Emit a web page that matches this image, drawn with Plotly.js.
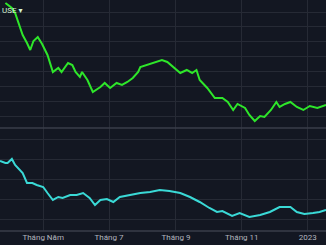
<!DOCTYPE html>
<html><head><meta charset="utf-8">
<script src="https://cdn.plot.ly/plotly-3.0.1.min.js"></script>
<style>html,body{margin:0;padding:0;background:#131722;}#c{width:326px;height:245px;}</style>
</head><body><div id="c"></div>
<script>
const greenDates = ["2022-03-27","2022-04-02","2022-04-05","2022-04-07","2022-04-10","2022-04-12","2022-04-16","2022-04-19","2022-04-22","2022-04-26","2022-04-30","2022-05-03","2022-05-05","2022-05-10","2022-05-15","2022-05-18","2022-05-24","2022-05-28","2022-05-31","2022-06-04","2022-06-06","2022-06-11","2022-06-16","2022-06-23","2022-06-27","2022-07-02","2022-07-08","2022-07-13","2022-07-18","2022-07-23","2022-07-28","2022-07-30","2022-08-05","2022-08-11","2022-08-19","2022-08-24","2022-08-29","2022-09-05","2022-09-11","2022-09-16","2022-09-20","2022-09-23","2022-09-30","2022-10-07","2022-10-14","2022-10-19","2022-10-24","2022-10-28","2022-11-04","2022-11-08","2022-11-13","2022-11-18","2022-11-22","2022-11-28","2022-12-03","2022-12-06","2022-12-11","2022-12-16","2022-12-22","2022-12-28","2023-01-03","2023-01-10","2023-01-18"];
const greenValues = [197,192,187,180,170,165,157,150,159,163,156,150,145,128,132,128,137,135,128,123,128,120,108,113,117,112,117,115,118,122,128,133,135,137,140,138,133,127,130,127,130,120,112,102,102,98,90,96,92,85,79,84,83,90,98,93,96,98,93,90,94,92,95];
const cyanDates = ["2022-03-22","2022-03-27","2022-03-29","2022-04-02","2022-04-05","2022-04-10","2022-04-12","2022-04-16","2022-04-21","2022-04-25","2022-05-01","2022-05-05","2022-05-10","2022-05-15","2022-05-19","2022-05-26","2022-06-01","2022-06-07","2022-06-13","2022-06-18","2022-06-23","2022-06-29","2022-07-05","2022-07-11","2022-07-20","2022-07-30","2022-08-08","2022-08-17","2022-08-26","2022-09-05","2022-09-14","2022-09-23","2022-10-02","2022-10-09","2022-10-14","2022-10-23","2022-10-30","2022-11-08","2022-11-18","2022-11-27","2022-12-06","2022-12-16","2022-12-22","2022-12-29","2023-01-06","2023-01-12","2023-01-18"];
const cyanValues = [99,97,97,101,95,90,87,77,77,75,73,67,60,63,62,65,65,67,62,55,60,61,58,63,65,67,68,70,69,67,63,58,52,48,49,44,47,43,45,48,53,53,48,46,47,48,50];
const tickDates = ["2022-05-01","2022-07-01","2022-09-01","2022-11-01","2023-01-01"];
const tickLabels = ["Tháng Năm","Tháng 7","Tháng 9","Tháng 11","2023"];

const grid = "#262a35";
const traces = [
  {x: greenDates, y: greenValues, type:"scatter", mode:"lines", line:{color:"#2ee62a", width:2}, xaxis:"x", yaxis:"y", hoverinfo:"skip"},
  {x: cyanDates, y: cyanValues, type:"scatter", mode:"lines", line:{color:"#3ad9d6", width:2}, xaxis:"x", yaxis:"y2", hoverinfo:"skip"}
];
const layout = {
  width:326, height:245,
  margin:{l:0, r:0, t:0, b:14},
  paper_bgcolor:"#131722", plot_bgcolor:"#131722",
  showlegend:false,
  font:{family:"Roboto, 'DejaVu Sans', sans-serif", size:8, color:"#b2b5be"},
  xaxis:{type:"date", range:["2022-03-22","2023-01-18"], tickvals:tickDates, ticktext:tickLabels,
    showgrid:true, gridcolor:grid, gridwidth:1, zeroline:false, showline:false, ticks:"", ticklen:0,
    tickfont:{size:8, color:"#b2b5be"}, anchor:"y2"},
  yaxis:{domain:[0.446,1], range:[72,200], tick0:83, dtick:15, showgrid:true, gridcolor:grid,
    showticklabels:false, zeroline:false, ticks:""},
  yaxis2:{domain:[0,0.446], range:[29,132], tick0:40, dtick:20, showgrid:true, gridcolor:grid,
    showticklabels:false, zeroline:false, ticks:""},
  shapes:[
    {type:"line", xref:"paper", yref:"paper", x0:0, x1:1, y0:0.446, y1:0.446, line:{color:"#3a3e4a", width:1.5}},
    {type:"line", xref:"paper", yref:"paper", x0:0, x1:1, y0:0, y1:0, line:{color:"#3a3e4a", width:1.5}}
  ],
  annotations:[
    {text:"USE ▾", xref:"paper", yref:"paper", x:0, y:0.955, xanchor:"left", yanchor:"middle", showarrow:false,
      font:{size:8, color:"#d6f5d6"}}
  ]
};
Plotly.newPlot("c", traces, layout, {staticPlot:true, displayModeBar:false});
</script>
</body></html>
